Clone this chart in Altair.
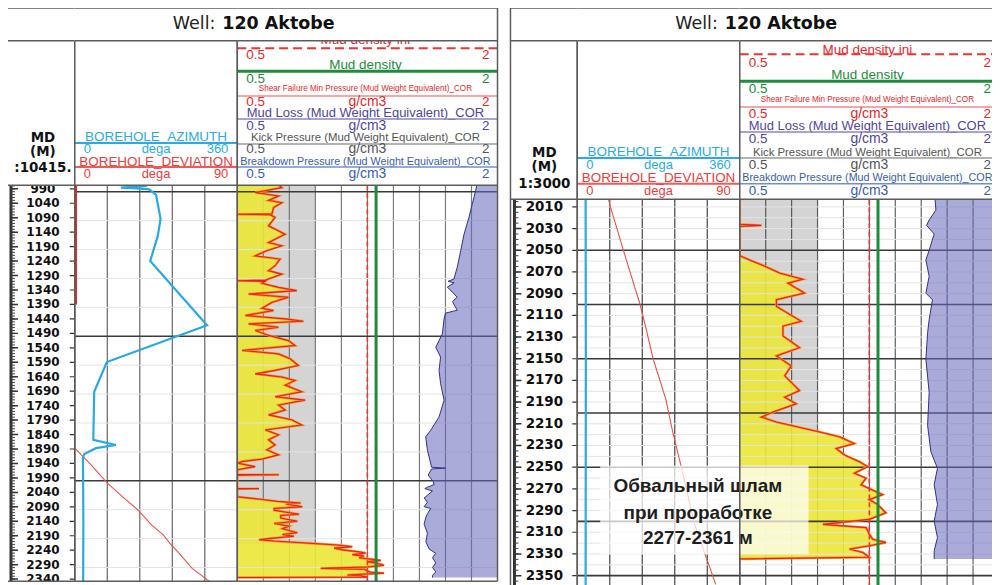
import altair as alt
import pandas as pd

# ---------------- data ----------------
# Shear Failure Min Pressure (Mud Weight Equivalent)_COR, g/cm3  (depth m, value)
shear_points = [
    (978, 0.74), (986, 0.757), (1003, 0.603), (1015, 0.738), (1030, 0.680), (1038, 0.757),
    (1055, 0.709), (1077, 0.70), (1078, 0.5), (1079.5, 0.69), (1089, 0.718), (1118, 0.680),
    (1147, 0.776), (1158, 0.738), (1176, 0.680), (1187, 0.757), (1204, 0.670), (1222, 0.603),
    (1233, 0.747), (1256, 0.718), (1273, 0.680), (1285, 0.757), (1306, 0.661), (1308, 0.5),
    (1310, 0.66), (1317, 0.642), (1331, 0.738), (1342, 0.843), (1354, 0.565), (1365, 0.795),
    (1383, 0.699), (1403, 0.642), (1411, 0.709), (1428, 0.546), (1440, 0.776), (1448, 0.881),
    (1457, 0.565), (1469, 0.738), (1480, 0.603), (1497, 0.680), (1515, 0.795), (1532, 0.833),
    (1549, 0.527), (1561, 0.738), (1578, 0.805), (1601, 0.852), (1618, 0.718), (1630, 0.603),
    (1641, 0.757), (1653, 0.833), (1669, 0.776), (1692, 0.872), (1709, 0.718), (1721, 0.891),
    (1738, 0.738), (1755, 0.776), (1772, 0.680), (1789, 0.814), (1807, 0.872), (1824, 0.661),
    (1841, 0.738), (1858, 0.680), (1876, 0.718), (1893, 0.670), (1910, 0.738), (1925, 0.642),
    (1933, 0.527), (1939, 0.504), (1951, 0.603), (1962, 0.5), (1978, 0.5), (1979, 0.74),
    (1980.5, 0.5), (1991, 0.5), (2003, 0.5), (2026, 0.5), (2027, 0.625), (2028, 0.5),
    (2055, 0.5), (2059, 0.558), (2064, 0.635), (2071, 0.731), (2076.7, 0.865), (2080.4, 0.779),
    (2089.5, 0.875), (2095.6, 0.712), (2101.7, 0.712), (2115.4, 0.856), (2119.9, 0.75),
    (2129, 0.75), (2139.8, 0.846), (2147.4, 0.712), (2156.6, 0.798), (2165.7, 0.76),
    (2179.4, 0.846), (2185.5, 0.76), (2191.6, 0.827), (2199.2, 0.692), (2203.8, 0.625),
    (2208.4, 0.712), (2217.5, 0.962), (2222, 1.077), (2228.2, 1.163), (2232.8, 1.058),
    (2238.8, 1.106), (2244.9, 1.192), (2249.5, 1.24), (2255.6, 1.163), (2260.1, 1.231),
    (2266.2, 1.202), (2275.3, 1.327), (2279.9, 1.25), (2284.4, 1.298), (2292.1, 1.346),
    (2298.1, 1.25), (2302.7, 0.981), (2305.7, 1.231), (2311.8, 1.25), (2316.4, 1.269),
    (2319.4, 1.346), (2322.5, 1.25), (2325.5, 1.135), (2328.6, 1.212), (2333.1, 1.25),
    (2334.6, 0.5),
]

# Mud Loss (Mud Weight Equivalent)_COR, g/cm3
mudloss_points = [
    (978, 1.88), (997, 1.874), (1044, 1.854), (1090, 1.835), (1147, 1.807), (1204, 1.788),
    (1261, 1.768), (1302, 1.749), (1310, 1.715), (1315, 1.75), (1330, 1.711), (1365, 1.768),
    (1380, 1.74), (1410, 1.768), (1420, 1.70), (1440, 1.692), (1492, 1.682), (1538, 1.644),
    (1572, 1.672), (1618, 1.663), (1664, 1.672), (1721, 1.692), (1779, 1.663), (1825, 1.615),
    (1848, 1.586), (1894, 1.596), (1953, 1.62), (1956, 1.70), (1959, 1.62), (1980, 1.60),
    (2003, 1.63), (2013, 1.635), (2022, 1.596), (2027, 1.581), (2035, 1.625), (2050, 1.596),
    (2059, 1.577), (2074, 1.596), (2089.5, 1.577), (2095.6, 1.615), (2113.9, 1.596),
    (2126, 1.587), (2150.5, 1.577), (2181, 1.596), (2211.5, 1.587), (2235.8, 1.606),
    (2251, 1.644), (2266, 1.625), (2284.4, 1.644), (2299.7, 1.625), (2315, 1.644),
    (2327, 1.625), (2334.6, 1.625),
]

# Kick Pressure (Mud Weight Equivalent)_COR, g/cm3
kick_points = [(978, 0.95), (2219, 0.95)]

# Borehole azimuth, deg
azimuth_points = [
    (978, 160), (981, 154), (986, 102), (988, 128), (992, 165), (1011, 180), (1094, 190),
    (1152, 184), (1240, 167), (1462, 293), (1589, 71), (1692, 43), (1858, 41), (1876, 91),
    (1887, 47), (1907, 21), (1921, 18), (2003, 18.5), (2150, 19), (2361, 18.5),
]

# Borehole deviation, deg
deviation_top_points = [(978, 0.4), (1390, 0.4)]
deviation_points = [
    (1887, 0), (1945, 9), (2009, 18.2), (2058, 27), (2100, 34.8), (2125, 38.5), (2150, 42),
    (2187, 49), (2217, 52.8), (2251, 57.8), (2303, 65), (2358, 76.7),
]

mud_density_ini = [1.25]
mud_density = [1.30]

annotation_lines = ["Обвальный шлам", "при проработке", "2277-2361 м"]

# ---------------- helpers ----------------
SANS = "Liberation Sans"
DJ = "DejaVu Sans"
BORDER = "#5c5c5c"
HDY = -1.5          # small vertical nudge of all header texts/lines
ONE = pd.DataFrame({"k": [0]})


def pts(points):
    return pd.DataFrame({"depth": [p[0] for p in points],
                         "value": [p[1] for p in points],
                         "i": list(range(len(points)))})


shear_df = pts(shear_points)
mudloss_df = pts(mudloss_points)
kick_df = pts(kick_points)
az_df = pts(azimuth_points)
devtop_df = pts(deviation_top_points)
dev_df = pts(deviation_points)

az_grid = [72, 144, 216, 288]
p_grid = [0.65, 0.8, 0.95, 1.1, 1.25, 1.4, 1.55, 1.7, 1.85]


def T(text, x, y, size, color, align="center", weight="normal", font=SANS):
    return alt.Chart(ONE).mark_text(
        text=text, align=align, baseline="middle", fontSize=size, color=color,
        fontWeight=weight, font=font,
    ).encode(x=alt.value(x), y=alt.value(y))


def HL(y, x1, x2, color, width, dash=None):
    kw = dict(color=color, strokeWidth=width)
    if dash:
        kw["strokeDash"] = dash
    return alt.Chart(ONE).mark_rule(**kw).encode(
        x=alt.value(x1), x2=alt.value(x2), y=alt.value(y))


def VL(x, y1, y2, color, width):
    return alt.Chart(ONE).mark_rule(color=color, strokeWidth=width).encode(
        x=alt.value(x), y=alt.value(y1), y2=alt.value(y2))


def mask(W, y1, y2):
    return alt.Chart(ONE).mark_rect(color="white").encode(
        x=alt.value(0), x2=alt.value(W), y=alt.value(y1), y2=alt.value(y2))


def geom(P):
    th = P["title_h"]
    y0 = th + P["head_h"]
    H = y0 + P["data_h"]
    return th, y0, H


def yscale(P):
    th, y0, H = geom(P)
    return alt.Scale(domain=P["dom"], range=[y0, H], nice=False, zero=False)


def borders(P, W, left_full, right_full):
    th, y0, H = geom(P)
    return [
        HL(0, 0, W, BORDER, 1.5), HL(th, 0, W, BORDER, 1.5),
        HL(y0, 0, W, BORDER, 1.5), HL(H, 0, W, BORDER, 1.5),
        VL(0, 0 if left_full else th, H, BORDER, 1.5),
        VL(W, 0 if right_full else th, H, BORDER, 1.5),
    ]


def hgrid(P, ys, W):
    hmin = alt.Chart(pd.DataFrame({"d": P["minor"]})).mark_rule(
        color="#e3e3e3", strokeWidth=1, clip=True).encode(
        y=alt.Y("d:Q", scale=ys, axis=None), x=alt.value(0), x2=alt.value(W))
    hmaj = alt.Chart(pd.DataFrame({"d": P["major"]})).mark_rule(
        color="#3a3a3a", strokeWidth=1.6, clip=True).encode(
        y=alt.Y("d:Q", scale=ys, axis=None), x=alt.value(0), x2=alt.value(W))
    return [hmin, hmaj]


# ---------------- columns ----------------
def depth_column(P):
    W = P["wD"]
    th, y0, H = geom(P)
    hy = th + HDY
    ys = yscale(P)
    lab = pd.DataFrame({"d": P["labels"]})
    tk = pd.DataFrame({"d": P["ticks"]})
    Y = alt.Y("d:Q", scale=ys, axis=None)
    data = [
        alt.Chart(ONE).mark_rule(color="#333", strokeWidth=3).encode(
            x=alt.value(4), y=alt.value(y0), y2=alt.value(H)),
        alt.Chart(tk).mark_rule(color="#444", strokeWidth=1, clip=True).encode(
            x=alt.value(4), x2=alt.value(8), y=Y),
        alt.Chart(lab).mark_rule(color="#333", strokeWidth=1.5, clip=True).encode(
            x=alt.value(4), x2=alt.value(11), y=Y),
        alt.Chart(lab).mark_rule(color="#333", strokeWidth=1.2, clip=True).encode(
            x=alt.value(W - 5), x2=alt.value(W), y=Y),
        alt.Chart(lab).mark_text(
            font=DJ, fontWeight="bold", fontSize=P["label_size"], color="#111",
            baseline="middle", clip=True,
        ).encode(x=alt.value(P["label_x"]), y=Y, text=alt.Text("d:Q", format="d")),
    ]
    head = [T(t, P["label_x"], hy + y, 13.5, "#111", weight="bold", font=DJ)
            for t, y in P["depth_head"]]
    layers = data + [mask(W, 0, y0)] + head + [mask(W, 0, th)] + borders(P, W, True, False)
    return alt.layer(*layers).properties(width=W, height=H)


def track2_column(P):
    W = P["w2"]
    th, y0, H = geom(P)
    hy = th + HDY
    ys = yscale(P)
    xaz = alt.Scale(domain=[0, 360], range=[0, W], nice=False, zero=False)
    xdv = alt.Scale(domain=[0, 90], range=[0, W], nice=False, zero=False)
    Y = alt.Y("depth:Q", scale=ys, axis=None)
    vg = alt.Chart(pd.DataFrame({"g": az_grid})).mark_rule(
        color=P["vgrid"], strokeWidth=1.2).encode(
        x=alt.X("g:Q", scale=xaz, axis=None), y=alt.value(y0), y2=alt.value(H))
    devtop = alt.Chart(devtop_df).mark_line(color="#e8262a", strokeWidth=3, clip=True).encode(
        x=alt.X("value:Q", scale=xdv, axis=None), y=Y, order="i:Q")
    dev = alt.Chart(dev_df).mark_line(color="#f0504a", strokeWidth=1.1, clip=True).encode(
        x=alt.X("value:Q", scale=xdv, axis=None), y=Y, order="i:Q")
    az = alt.Chart(az_df).mark_line(color="#29a9e1", strokeWidth=2.2, clip=True).encode(
        x=alt.X("value:Q", scale=xaz, axis=None), y=Y, order="i:Q")
    data = [vg] + hgrid(P, ys, W) + [devtop, dev, az]

    ty, ly, sy = P["rows2"]
    rows = [("BOREHOLE_AZIMUTH", "#29abe2", "#29abe2", "360"),
            ("BOREHOLE_DEVIATION", "#ee3b3b", "#ef5a5a", "90")]
    head = []
    for k, (name, tc, lc, mx) in enumerate(rows):
        head.append(HL(hy + ly[k], 0, W, lc, 2))
        head.append(T(name, W / 2, hy + ty[k], 13.5, tc))
        head.append(T("0", 9, hy + sy[k], 13, tc, align="left"))
        head.append(T("dega", W / 2, hy + sy[k], 13, tc))
        head.append(T(mx, W - 9, hy + sy[k], 13, tc, align="right"))
    layers = data + [mask(W, 0, y0)] + head + [mask(W, 0, th)] + borders(P, W, False, False)
    return alt.layer(*layers).resolve_scale(x="independent").properties(width=W, height=H)


def track3_column(P, annotate=False):
    W = P["w3"]
    th, y0, H = geom(P)
    hy = th + HDY
    ys = yscale(P)
    xs = alt.Scale(domain=[0.5, 2.0], range=[0, W], nice=False, zero=False)
    X = alt.X("value:Q", scale=xs, axis=None)
    Y = alt.Y("depth:Q", scale=ys, axis=None)
    gray = alt.Chart(kick_df).mark_area(orient="horizontal", color="#d4d4d4", clip=True).encode(
        y=Y, x=X, x2=alt.X2(datum=0.5))
    yellow = alt.Chart(shear_df).mark_area(orient="horizontal", color="#ece737", opacity=0.9,
                                           clip=True).encode(y=Y, x=X, x2=alt.X2(datum=0.5))
    vg = alt.Chart(pd.DataFrame({"g": p_grid})).mark_rule(
        color=P["vgrid"], strokeWidth=1.2, opacity=0.85).encode(
        x=alt.X("g:Q", scale=xs, axis=None), y=alt.value(y0), y2=alt.value(H))
    orange = alt.Chart(shear_df).mark_line(color="#f7941d", strokeWidth=2.4, clip=True).encode(
        y=Y, x=X, order="i:Q")
    red = alt.Chart(shear_df).mark_line(color="#ed1c24", strokeWidth=1.1, clip=True).encode(
        y=Y, x=X, order="i:Q")
    blue = alt.Chart(mudloss_df).mark_area(orient="horizontal", color="#6666bb", opacity=0.55,
                                           clip=True).encode(y=Y, x=X, x2=alt.X2(datum=2.0))
    blue_line = alt.Chart(mudloss_df).mark_line(color="#2e3192", strokeWidth=1, clip=True).encode(
        y=Y, x=X, order="i:Q")
    ini = alt.Chart(pd.DataFrame({"value": mud_density_ini})).mark_rule(
        color="#ee3333", strokeWidth=1.6, strokeDash=[5, 3]).encode(
        x=X, y=alt.value(y0), y2=alt.value(H))
    mud = alt.Chart(pd.DataFrame({"value": mud_density})).mark_rule(
        color="#1f8a3a", strokeWidth=3).encode(x=X, y=alt.value(y0), y2=alt.value(H))
    data = [gray, vg, yellow] + hgrid(P, ys, W) + [orange, red, blue, blue_line, ini, mud]
    if annotate:
        a = P["annot"]
        data.append(alt.Chart(ONE).mark_rect(color="white", opacity=0.72).encode(
            x=alt.value(a["x1"]), x2=alt.value(a["x2"]),
            y=alt.value(y0 + a["y1"]), y2=alt.value(y0 + a["y2"])))
        for line, yy in zip(annotation_lines, a["ty"]):
            data.append(alt.Chart(ONE).mark_text(
                text=line, font=SANS, fontWeight="bold", fontSize=19, color="#1e1e1e",
                align="center", baseline="middle").encode(
                x=alt.value(a["tx"]), y=alt.value(y0 + yy)))

    ty, ly, sy = P["rows3"]
    rows = [
        ("Mud density ini", "#e8262a", 13.5, "#ee3333", 2, [9, 5], ""),
        ("Mud density", "#1d8a3b", 13.5, "#1e8c3c", 3, None, ""),
        ("Shear Failure Min Pressure (Mud Weight Equivalent)_COR", "#e8262a", 8.2, "#f08a8a", 1.5, None, "g/cm3"),
        ("Mud Loss (Mud Weight Equivalent)_COR", "#4f46a0", 13, "#8a84c4", 1.5, None, "g/cm3"),
        ("Kick Pressure (Mud Weight Equivalent)_COR", "#555555", 11.4, "#9a9a9a", 1.5, None, "g/cm3"),
        ("Breakdown Pressure (Mud Weight Equivalent)_COR", "#3b5ea8", 10.8, "#7090c8", 1.5, None, "g/cm3"),
    ]
    head = []
    for k, (name, tc, ts, lc, lw, dash, unit) in enumerate(rows):
        head.append(T(name, W / 2 - 2, hy + ty[k], ts, tc))
        head.append(HL(hy + ly[k], 0, W, lc, lw, dash))
        head.append(T("0.5", 9, hy + sy[k], 13.5, tc, align="left"))
        head.append(T("2", W - 8, hy + sy[k], 13.5, tc, align="right"))
        if unit:
            head.append(T(unit, W / 2, hy + sy[k], 14, tc))
    title = [T("Well:", -22, th / 2, 17.5, "#222", align="right", font=DJ),
             T("120 Aktobe", -15, th / 2, 17.5, "#111", align="left", weight="bold", font=DJ)]
    layers = (data + [mask(W, 0, y0)] + head + [mask(W, 0, th)]
              + borders(P, W, False, True) + title)
    return alt.layer(*layers).properties(width=W, height=H)


LEFT = dict(
    wD=68, w2=163, w3=261, title_h=33, head_h=145, data_h=397, dom=[978, 2347],
    label_x=36, label_size=12,
    depth_head=[("MD", 99), ("(M)", 113), (":10415.", 129)],
    rows3=([1, 26, 50, 74, 99, 123], [9, 32, 57, 80, 105, 128], [16, 40, 63, 87, 110, 135]),
    rows2=([98, 123], [104, 128], [110, 135]),
    labels=list(range(990, 2341, 50)), ticks=list(range(980, 2347, 10)),
    major=[1000, 1500, 2000], minor=[1100, 1200, 1300, 1400, 1600, 1700, 1800, 1900, 2100, 2200, 2300],
    vgrid="#666666",
)

RIGHT = dict(
    wD=67, w2=163, w3=260, title_h=33, head_h=159, data_h=390, dom=[2003, 2361.5],
    label_x=34, label_size=13.5,
    depth_head=[("MD", 114), ("(M)", 128), ("1:3000", 145)],
    rows3=([11, 36, 61, 87, 114, 139], [15, 42, 68, 93, 119, 145], [24, 50, 75, 100, 126, 152]),
    rows2=([113, 139], [119, 145], [126, 152]),
    labels=list(range(2010, 2351, 20)), ticks=list(range(2005, 2361, 5)),
    major=list(range(2050, 2351, 50)), minor=[d for d in range(2010, 2361, 10) if d % 50],
    vgrid="#444444",
    annot=dict(x1=-140, x2=69, y1=267, y2=356, tx=-42, ty=[288, 315, 340]),
)

spacer = alt.Chart(ONE).mark_rect(opacity=0).encode(
    x=alt.value(0), x2=alt.value(1), y=alt.value(0), y2=alt.value(1)).properties(width=13, height=20)

chart = alt.hconcat(
    depth_column(LEFT), track2_column(LEFT), track3_column(LEFT),
    spacer,
    depth_column(RIGHT), track2_column(RIGHT), track3_column(RIGHT, annotate=True),
    spacing=0, bounds="flush",
).properties(
    padding={"left": -3, "top": -3, "right": -9, "bottom": 0},
    background="white",
).configure_view(stroke="transparent")

chart.save("out.html", embed_options={"renderer": "svg", "actions": False})
